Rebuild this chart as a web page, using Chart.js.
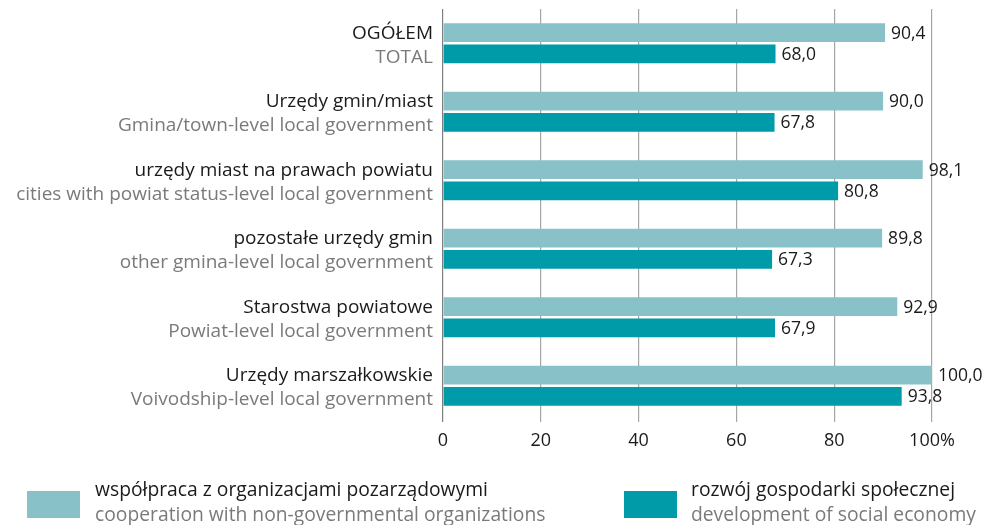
<!DOCTYPE html>
<html>
<head>
<meta charset="utf-8">
<script src="https://cdn.jsdelivr.net/npm/chart.js@4"></script>
<style>
  html, body { margin: 0; padding: 0; background: #fff; }
  #wrap { width: 993px; height: 525px; position: relative; }
</style>
</head>
<body>
<div id="wrap"><canvas id="c" width="993" height="525"></canvas></div>
<script>
// Categories: Polish name (first line) and English name (second line)
const categoriesPl = [
  'OGÓŁEM',
  'Urzędy gmin/miast',
  'urzędy miast na prawach powiatu',
  'pozostałe urzędy gmin',
  'Starostwa powiatowe',
  'Urzędy marszałkowskie'
];
const categoriesEn = [
  'TOTAL',
  'Gmina/town-level local government',
  'cities with powiat status-level local government',
  'other gmina-level local government',
  'Powiat-level local government',
  'Voivodship-level local government'
];

// Series values (%)
const cooperationNGO = [90.4, 90.0, 98.1, 89.8, 92.9, 100.0];
const socialEconomy = [68.0, 67.8, 80.8, 67.3, 67.9, 93.8];

// Legend labels
const seriesPl = ['współpraca z organizacjami pozarządowymi', 'rozwój gospodarki społecznej'];
const seriesEn = ['cooperation with non-governmental organizations', 'development of social economy'];

// X axis ticks
const xTicks = [0, 20, 40, 60, 80, 100];

const COL_LIGHT = '#88c1c8';
const COL_DARK = '#009ba8';
const FONT = '"Open Sans", "DejaVu Sans", sans-serif';

const fmt = v => v.toFixed(1).replace('.', ',');

// Two-line category labels, value labels and legend
const annotate = {
  id: 'annotate',
  afterDatasetsDraw(chart) {
    const ctx = chart.ctx;
    const y = chart.scales.y;
    ctx.save();
    ctx.textBaseline = 'middle';

    // category labels
    ctx.font = '19px ' + FONT;
    ctx.textAlign = 'right';
    categoriesPl.forEach((name, i) => {
      const cy = y.getPixelForValue(i);
      ctx.fillStyle = '#1a1a1a';
      ctx.fillText(name, 433, cy - 10);
      ctx.fillStyle = '#7a7a7a';
      ctx.fillText(categoriesEn[i], 433, cy + 14);
    });

    // value labels
    ctx.font = '17.5px ' + FONT;
    ctx.textAlign = 'left';
    ctx.fillStyle = '#1a1a1a';
    chart.data.datasets.forEach((ds, di) => {
      const meta = chart.getDatasetMeta(di);
      meta.data.forEach((bar, i) => {
        ctx.fillText(fmt(ds.data[i]), bar.x + 6, bar.y + 1);
      });
    });

    // legend
    const items = [
      { x: 27, tx: 95, color: COL_LIGHT },
      { x: 624, tx: 691, color: COL_DARK }
    ];
    ctx.font = '19.3px ' + FONT;
    items.forEach((it, k) => {
      ctx.fillStyle = it.color;
      ctx.fillRect(it.x, 491, 53, 27);
      ctx.fillStyle = '#1a1a1a';
      ctx.fillText(seriesPl[k], it.tx, 491);
      ctx.fillStyle = '#7a7a7a';
      ctx.fillText(seriesEn[k], it.tx, 516);
    });
    ctx.restore();
  }
};

new Chart(document.getElementById('c'), {
  type: 'bar',
  data: {
    labels: categoriesPl,
    datasets: [
      {
        label: seriesPl[0],
        data: cooperationNGO,
        backgroundColor: COL_LIGHT,
        barPercentage: 0.88,
        categoryPercentage: 0.62
      },
      {
        label: seriesPl[1],
        data: socialEconomy,
        backgroundColor: COL_DARK,
        barPercentage: 0.88,
        categoryPercentage: 0.62
      }
    ]
  },
  options: {
    indexAxis: 'y',
    responsive: false,
    animation: false,
    layout: { padding: { left: 443, right: 61, top: 9, bottom: 0 } },
    plugins: {
      legend: { display: false },
      tooltip: { enabled: false }
    },
    scales: {
      x: {
        type: 'linear',
        min: 0,
        max: 100,
        afterFit(scale) { scale.height = 105; },
        afterBuildTicks(scale) { scale.ticks = xTicks.map(v => ({ value: v })); },
        ticks: {
          color: '#1a1a1a',
          font: { size: 18, family: FONT },
          padding: 8,
          callback: v => (v === 100 ? '100%' : String(v))
        },
        grid: {
          color: ctx => (ctx.tick && ctx.tick.value === 0 ? '#7f7f7f' : '#a6a6a6'),
          lineWidth: 1.2,
          tickLength: 2,
          drawTicks: true
        },
        border: { display: false }
      },
      y: {
        type: 'category',
        display: false
      }
    }
  },
  plugins: [annotate]
});
</script>
</body>
</html>
